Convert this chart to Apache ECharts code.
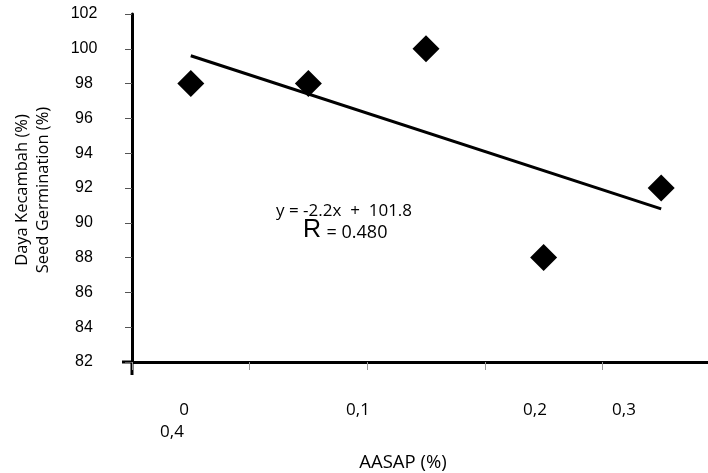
<!DOCTYPE html>
<html>
<head>
<meta charset="utf-8">
<script src="https://cdn.jsdelivr.net/npm/echarts@6/dist/echarts.min.js"></script>
<style>html,body{margin:0;padding:0;background:#fff;}#c{width:708px;height:473px;}</style>
</head>
<body>
<div id="c"></div>
<script>
var categories = ['c1', 'c2', 'c3', 'c4', 'c5'];
var germination = [98, 98, 100, 88, 92];
var trendValues = [99.6, null, null, null, 90.8];
var xTickLabels = ['0', '0,4', '0,1', '0,2', '0,3'];
var xLabelPos = [[184, 410], [172, 432], [358, 410], [535, 410], [624, 410]];
var yMin = 82, yMax = 102, yStep = 2;
var xName = 'AASAP (%)';
var yNameLines = ['Daya Kecambah (%)', 'Seed Germination (%)'];
var eqText = 'y = -2.2x  +  101.8';
var rLabel = 'R';
var rValue = '= 0.480';

var chart = echarts.init(document.getElementById('c'), null, {renderer: 'canvas'});
var sansFont = '"Open Sans", "Liberation Sans", sans-serif';
function txt(x, y, t, size, extra) {
  var o = {type: 'text', x: x, y: y,
    style: {text: t, fill: '#000', font: size + 'px ' + sansFont, textAlign: 'center', textVerticalAlign: 'middle'}};
  if (extra) { for (var k in extra) o[k] = extra[k]; }
  return o;
}
var graphics = [];
xTickLabels.forEach(function (t, i) {
  graphics.push(txt(xLabelPos[i][0], xLabelPos[i][1], t, 17));
});
graphics.push(txt(403, 463, xName, 18.5));
graphics.push(txt(22, 190, yNameLines[0], 16.5, {rotation: Math.PI / 2}));
graphics.push(txt(43, 190, yNameLines[1], 16.5, {rotation: Math.PI / 2}));
graphics.push(txt(344, 211, eqText, 17));
graphics.push({type: 'text', x: 312, y: 230,
  style: {text: rLabel, fill: '#000', font: '25px "Liberation Sans", sans-serif', textAlign: 'center', textVerticalAlign: 'middle'}});
graphics.push(txt(357, 233, rValue, 18));
// axis overhangs
graphics.push({type: 'line', shape: {x1: 132, y1: 362, x2: 132, y2: 375}, style: {stroke: '#000', lineWidth: 3}});
graphics.push({type: 'line', shape: {x1: 122, y1: 362, x2: 132, y2: 362}, style: {stroke: '#000', lineWidth: 3}});

chart.setOption({
  animation: false,
  backgroundColor: '#fff',
  grid: {left: 132, width: 588, top: 14, bottom: 111, containLabel: false, outerBoundsMode: 'none'},
  xAxis: {
    type: 'category', data: categories, boundaryGap: true,
    axisLine: {show: true, lineStyle: {color: '#000', width: 3}},
    axisTick: {show: true, length: 8, lineStyle: {color: '#999', width: 1}},
    axisLabel: {show: false},
    splitLine: {show: false}
  },
  yAxis: {
    type: 'value', min: yMin, max: yMax, interval: yStep,
    axisLine: {show: true, lineStyle: {color: '#000', width: 3}},
    axisTick: {show: true, length: 7, lineStyle: {color: '#555', width: 1}},
    axisLabel: {color: '#000', fontSize: 16, fontFamily: '"Liberation Sans Narrow", "Liberation Sans", sans-serif', align: 'center', margin: 48},
    splitLine: {show: false}
  },
  series: [
    {type: 'line', data: trendValues, connectNulls: true, showSymbol: false, symbol: 'none',
     lineStyle: {color: '#000', width: 3}, z: 2},
    {type: 'scatter', data: germination, symbol: 'diamond', symbolSize: [27, 27],
     itemStyle: {color: '#000', opacity: 1}, z: 3}
  ],
  graphic: graphics
});
</script>
</body>
</html>
